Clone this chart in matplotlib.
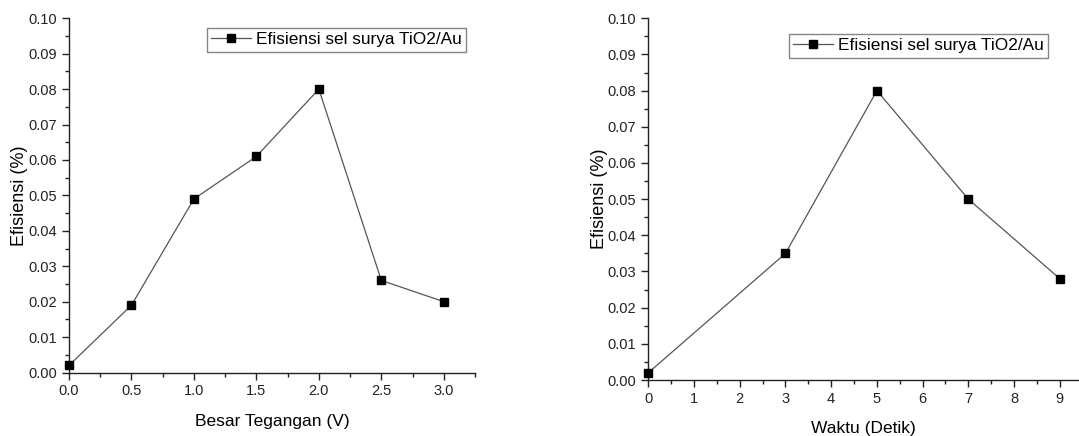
import matplotlib
matplotlib.use("Agg")
import matplotlib.pyplot as plt
from matplotlib.ticker import MultipleLocator, FormatStrFormatter

plt.rcParams['font.family'] = ['Liberation Sans', 'DejaVu Sans']

# Data
voltage = [0.0, 0.5, 1.0, 1.5, 2.0, 2.5, 3.0]
eff_voltage = [0.002, 0.019, 0.049, 0.061, 0.080, 0.026, 0.020]
time_s = [0, 3, 5, 7, 9]
eff_time = [0.002, 0.035, 0.080, 0.050, 0.028]
series_label = "Efisiensi sel surya TiO2/Au"
ylabel = "Efisiensi (%)"
xlabel_left = "Besar Tegangan (V)"
xlabel_right = "Waktu (Detik)"

W, H = 1079, 436
fig = plt.figure(figsize=(W / 100, H / 100), dpi=100)

def px_axes(x0, x1, ytop, ybot):
    return fig.add_axes([x0 / W, 1 - ybot / H, (x1 - x0) / W, (ybot - ytop) / H])

def style(ax, xmajor, xminor, xfmt):
    for s in ['top', 'right']:
        ax.spines[s].set_visible(False)
    for s in ['left', 'bottom']:
        ax.spines[s].set_linewidth(1.0)
        ax.spines[s].set_color('#222222')
    ax.set_ylim(0, 0.10)
    ax.yaxis.set_major_locator(MultipleLocator(0.01))
    ax.yaxis.set_minor_locator(MultipleLocator(0.005))
    ax.yaxis.set_major_formatter(FormatStrFormatter('%.2f'))
    ax.xaxis.set_major_locator(MultipleLocator(xmajor))
    ax.xaxis.set_minor_locator(MultipleLocator(xminor))
    ax.xaxis.set_major_formatter(FormatStrFormatter(xfmt))
    ax.tick_params(which='major', direction='out', length=5, width=1, labelsize=10.5, colors='#222222')
    ax.tick_params(which='minor', direction='out', length=3, width=1, colors='#222222')
    ax.set_ylabel(ylabel, fontsize=13, labelpad=0)

leg_kw = dict(fontsize=12.4, frameon=True, fancybox=False, edgecolor='#666666',
              handlelength=2.3, handletextpad=0.3, borderpad=0.25, borderaxespad=0.0)
line_kw = dict(color='#555555', lw=0.9, marker='s', ms=6, mfc='black', mec='black',
               clip_on=False, zorder=3)

# Left plot
ax1 = px_axes(69, 475, 18.3, 372.5)
ax1.plot(voltage, eff_voltage, label=series_label, **line_kw)
ax1.set_xlim(0, 3.25)
style(ax1, 0.5, 0.25, '%.1f')
ax1.set_xlabel(xlabel_left, fontsize=12.5, labelpad=11)
ax1.legend(loc='upper right', bbox_to_anchor=(0.978, 0.973), **leg_kw)

# Right plot
ax2 = px_axes(648.3, 1079, 18.3, 380)
ax2.plot(time_s, eff_time, label=series_label, **line_kw)
ax2.set_xlim(0, 9.42)
style(ax2, 1, 0.5, '%d')
ax2.set_xlabel(xlabel_right, fontsize=12.5, labelpad=11)
ax2.legend(loc='upper right', bbox_to_anchor=(0.928, 0.957), **leg_kw)

fig.savefig('out.png', dpi=100)
